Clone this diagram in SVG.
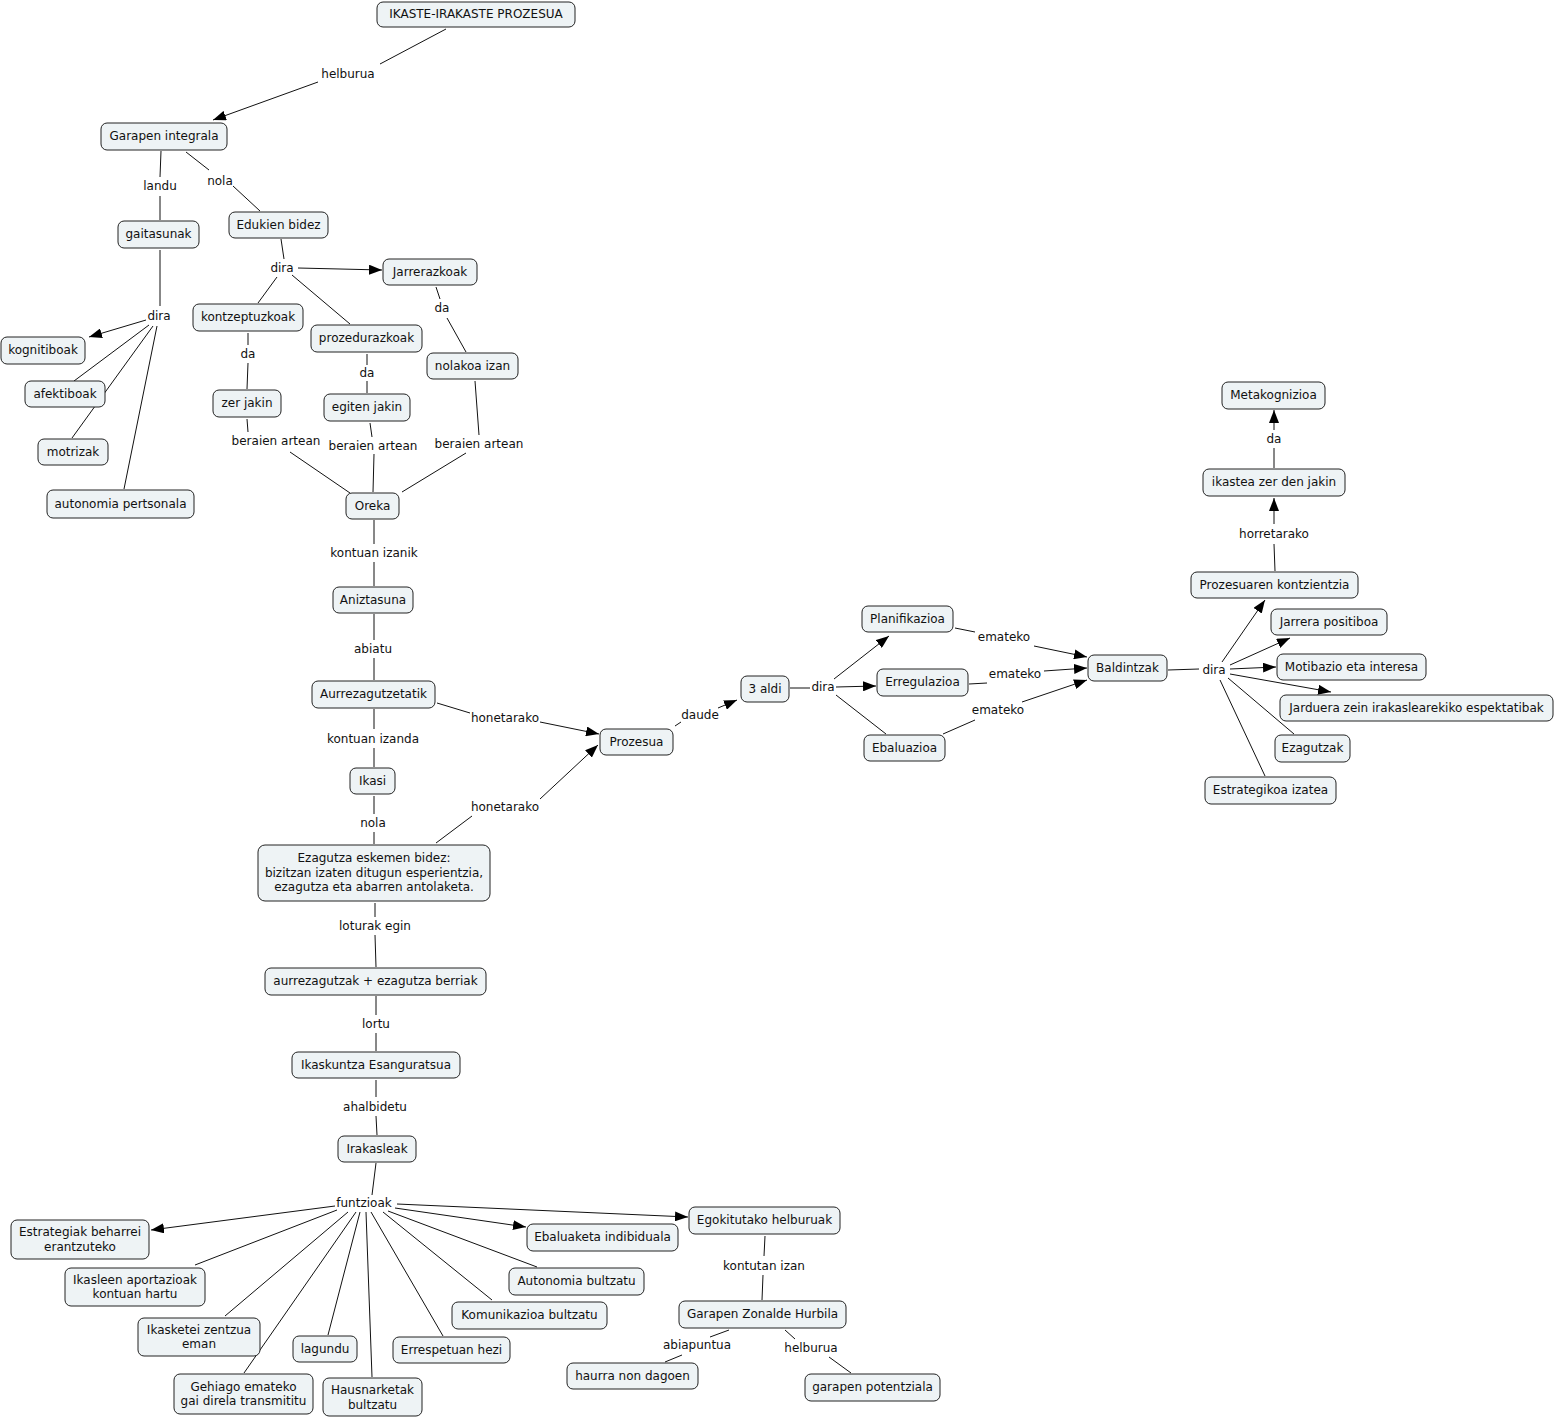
<svg xmlns="http://www.w3.org/2000/svg" width="1555" height="1419" viewBox="0 0 1555 1419">
<style>
.n rect{fill:#eef3f5;stroke:#222;stroke-width:1}
text{font-family:"DejaVu Sans","Verdana",sans-serif;font-size:12px;fill:#111;text-anchor:middle}
.c line{stroke:#111;stroke-width:1}
</style>
<defs>
<marker id="ar" viewBox="0 0 13 10" refX="13" refY="5" markerWidth="13" markerHeight="10" markerUnits="userSpaceOnUse" orient="auto"><path d="M0,0 L13,5 L0,10 z" fill="#000"/></marker>
</defs>
<rect width="1555" height="1419" fill="#fff"/>
<g id="connectors" class="c">
<line x1="446" y1="29" x2="380" y2="64"/>
<line x1="318" y1="82" x2="213" y2="120" marker-end="url(#ar)"/>
<line x1="161" y1="151" x2="160" y2="177"/>
<line x1="160" y1="196" x2="160" y2="220"/>
<line x1="186" y1="152" x2="209" y2="170"/>
<line x1="233" y1="186" x2="260" y2="211"/>
<line x1="281" y1="239" x2="284" y2="259"/>
<line x1="298" y1="268" x2="382" y2="270" marker-end="url(#ar)"/>
<line x1="277" y1="277" x2="258" y2="303"/>
<line x1="292" y1="275" x2="350" y2="324"/>
<line x1="436" y1="287" x2="440" y2="299"/>
<line x1="447" y1="318" x2="466" y2="352"/>
<line x1="248" y1="333" x2="248" y2="345"/>
<line x1="248" y1="363" x2="247" y2="389"/>
<line x1="367" y1="354" x2="367" y2="365"/>
<line x1="367" y1="381" x2="367" y2="393"/>
<line x1="475" y1="381" x2="479" y2="435"/>
<line x1="466" y1="453" x2="402" y2="492"/>
<line x1="247" y1="419" x2="248" y2="432"/>
<line x1="290" y1="452" x2="350" y2="493"/>
<line x1="370" y1="423" x2="372" y2="437"/>
<line x1="374" y1="454" x2="373" y2="492"/>
<line x1="160" y1="250" x2="160" y2="306"/>
<line x1="146" y1="320" x2="89" y2="337" marker-end="url(#ar)"/>
<line x1="149" y1="325" x2="74" y2="381"/>
<line x1="153" y1="326" x2="72" y2="438"/>
<line x1="157" y1="326" x2="124" y2="489"/>
<line x1="374" y1="520" x2="374" y2="544"/>
<line x1="374" y1="562" x2="374" y2="586"/>
<line x1="374" y1="614" x2="374" y2="640"/>
<line x1="374" y1="658" x2="374" y2="680"/>
<line x1="374" y1="709" x2="374" y2="729"/>
<line x1="374" y1="748" x2="374" y2="767"/>
<line x1="437" y1="703" x2="470" y2="713"/>
<line x1="540" y1="722" x2="599" y2="734" marker-end="url(#ar)"/>
<line x1="374" y1="796" x2="374" y2="814"/>
<line x1="374" y1="832" x2="374" y2="844"/>
<line x1="436" y1="843" x2="472" y2="816"/>
<line x1="540" y1="799" x2="598" y2="745" marker-end="url(#ar)"/>
<line x1="375" y1="903" x2="375" y2="917"/>
<line x1="375" y1="935" x2="376" y2="967"/>
<line x1="376" y1="996" x2="376" y2="1015"/>
<line x1="376" y1="1033" x2="376" y2="1051"/>
<line x1="376" y1="1080" x2="376" y2="1097"/>
<line x1="376" y1="1116" x2="377" y2="1135"/>
<line x1="376" y1="1163" x2="372" y2="1195"/>
<line x1="335" y1="1206" x2="151" y2="1230" marker-end="url(#ar)"/>
<line x1="337" y1="1210" x2="195" y2="1265"/>
<line x1="348" y1="1212" x2="225" y2="1316"/>
<line x1="360" y1="1212" x2="328" y2="1335"/>
<line x1="356" y1="1212" x2="244" y2="1373"/>
<line x1="366" y1="1212" x2="372" y2="1377"/>
<line x1="371" y1="1212" x2="443" y2="1336"/>
<line x1="383" y1="1212" x2="492" y2="1300"/>
<line x1="388" y1="1211" x2="537" y2="1267"/>
<line x1="395" y1="1208" x2="526" y2="1227" marker-end="url(#ar)"/>
<line x1="397" y1="1204" x2="688" y2="1217" marker-end="url(#ar)"/>
<line x1="765" y1="1236" x2="764" y2="1256"/>
<line x1="763" y1="1275" x2="762" y2="1300"/>
<line x1="729" y1="1330" x2="710" y2="1337"/>
<line x1="682" y1="1355" x2="665" y2="1362"/>
<line x1="785" y1="1330" x2="795" y2="1339"/>
<line x1="829" y1="1357" x2="851" y2="1373"/>
<line x1="675" y1="726" x2="681" y2="722"/>
<line x1="718" y1="708" x2="737" y2="700" marker-end="url(#ar)"/>
<line x1="790" y1="688" x2="810" y2="688"/>
<line x1="836" y1="687" x2="876" y2="686" marker-end="url(#ar)"/>
<line x1="834" y1="679" x2="889" y2="636" marker-end="url(#ar)"/>
<line x1="836" y1="695" x2="886" y2="734"/>
<line x1="955" y1="628" x2="975" y2="632"/>
<line x1="1034" y1="646" x2="1087" y2="657" marker-end="url(#ar)"/>
<line x1="969" y1="684" x2="987" y2="683"/>
<line x1="1044" y1="671" x2="1087" y2="668" marker-end="url(#ar)"/>
<line x1="943" y1="734" x2="975" y2="720"/>
<line x1="1022" y1="702" x2="1087" y2="680" marker-end="url(#ar)"/>
<line x1="1168" y1="670" x2="1199" y2="669"/>
<line x1="1222" y1="662" x2="1265" y2="600" marker-end="url(#ar)"/>
<line x1="1230" y1="665" x2="1290" y2="638" marker-end="url(#ar)"/>
<line x1="1230" y1="669" x2="1276" y2="667" marker-end="url(#ar)"/>
<line x1="1230" y1="674" x2="1331" y2="692" marker-end="url(#ar)"/>
<line x1="1228" y1="678" x2="1294" y2="734"/>
<line x1="1220" y1="680" x2="1265" y2="776"/>
<line x1="1275" y1="571" x2="1274" y2="544"/>
<line x1="1274" y1="524" x2="1274" y2="498" marker-end="url(#ar)"/>
<line x1="1274" y1="468" x2="1274" y2="448"/>
<line x1="1274" y1="430" x2="1274" y2="410" marker-end="url(#ar)"/>
</g>
<g id="labels">
<text x="348" y="78">helburua</text>
<text x="160" y="190">landu</text>
<text x="220" y="185">nola</text>
<text x="282" y="272">dira</text>
<text x="442" y="312">da</text>
<text x="248" y="358">da</text>
<text x="367" y="377">da</text>
<text x="159" y="320">dira</text>
<text x="276" y="445">beraien artean</text>
<text x="373" y="450">beraien artean</text>
<text x="479" y="448">beraien artean</text>
<text x="374" y="557">kontuan izanik</text>
<text x="373" y="653">abiatu</text>
<text x="505" y="722">honetarako</text>
<text x="373" y="743">kontuan izanda</text>
<text x="373" y="827">nola</text>
<text x="505" y="811">honetarako</text>
<text x="375" y="930">loturak egin</text>
<text x="376" y="1028">lortu</text>
<text x="375" y="1111">ahalbidetu</text>
<text x="364" y="1207">funtzioak</text>
<text x="700" y="719">daude</text>
<text x="823" y="691">dira</text>
<text x="1004" y="641">emateko</text>
<text x="1015" y="678">emateko</text>
<text x="998" y="714">emateko</text>
<text x="1214" y="674">dira</text>
<text x="1274" y="538">horretarako</text>
<text x="1274" y="443">da</text>
<text x="764" y="1270">kontutan izan</text>
<text x="697" y="1349">abiapuntua</text>
<text x="811" y="1352">helburua</text>
</g>
<g id="n1" class="n"><rect x="377" y="2" width="198" height="25" rx="6"/><text x="476" y="18">IKASTE-IRAKASTE PROZESUA</text></g>
<g id="n2" class="n"><rect x="101" y="123" width="126" height="27" rx="6"/><text x="164" y="140">Garapen integrala</text></g>
<g id="n3" class="n"><rect x="118" y="221" width="81" height="27" rx="6"/><text x="158.5" y="238">gaitasunak</text></g>
<g id="n4" class="n"><rect x="229" y="212" width="99" height="26" rx="6"/><text x="278.5" y="229">Edukien bidez</text></g>
<g id="n5" class="n"><rect x="383" y="259" width="94" height="26" rx="6"/><text x="430" y="276">Jarrerazkoak</text></g>
<g id="n6" class="n"><rect x="193" y="304" width="110" height="27" rx="6"/><text x="248" y="321">kontzeptuzkoak</text></g>
<g id="n7" class="n"><rect x="311" y="325" width="111" height="27" rx="6"/><text x="366.5" y="342">prozedurazkoak</text></g>
<g id="n8" class="n"><rect x="427" y="353" width="91" height="26" rx="6"/><text x="472.5" y="370">nolakoa izan</text></g>
<g id="n9" class="n"><rect x="1" y="337" width="84" height="27" rx="6"/><text x="43" y="354">kognitiboak</text></g>
<g id="n10" class="n"><rect x="25" y="381" width="80" height="26" rx="6"/><text x="65" y="398">afektiboak</text></g>
<g id="n11" class="n"><rect x="38" y="439" width="70" height="26" rx="6"/><text x="73" y="456">motrizak</text></g>
<g id="n12" class="n"><rect x="47" y="490" width="147" height="28" rx="6"/><text x="120.5" y="508">autonomia pertsonala</text></g>
<g id="n13" class="n"><rect x="213" y="390" width="68" height="27" rx="6"/><text x="247" y="407">zer jakin</text></g>
<g id="n14" class="n"><rect x="324" y="394" width="86" height="27" rx="6"/><text x="367" y="411">egiten jakin</text></g>
<g id="n15" class="n"><rect x="346" y="493" width="53" height="26" rx="6"/><text x="372.5" y="510">Oreka</text></g>
<g id="n16" class="n"><rect x="333" y="587" width="80" height="26" rx="6"/><text x="373" y="604">Aniztasuna</text></g>
<g id="n17" class="n"><rect x="312" y="681" width="123" height="27" rx="6"/><text x="373.5" y="698">Aurrezagutzetatik</text></g>
<g id="n18" class="n"><rect x="350" y="768" width="45" height="26" rx="6"/><text x="372.5" y="785">Ikasi</text></g>
<g id="n19" class="n"><rect x="258" y="845" width="232" height="56" rx="7"/><text x="374" y="862">Ezagutza eskemen bidez:</text><text x="374" y="876.5">bizitzan izaten ditugun esperientzia,</text><text x="374" y="891">ezagutza eta abarren antolaketa.</text></g>
<g id="n20" class="n"><rect x="265" y="968" width="221" height="27" rx="6"/><text x="375.5" y="985">aurrezagutzak + ezagutza berriak</text></g>
<g id="n21" class="n"><rect x="292" y="1052" width="168" height="26" rx="6"/><text x="376" y="1069">Ikaskuntza Esanguratsua</text></g>
<g id="n22" class="n"><rect x="338" y="1136" width="78" height="26" rx="6"/><text x="377" y="1153">Irakasleak</text></g>
<g id="n23" class="n"><rect x="600" y="729" width="73" height="26" rx="6"/><text x="636.5" y="746">Prozesua</text></g>
<g id="n24" class="n"><rect x="741" y="676" width="48" height="26" rx="6"/><text x="765" y="693">3 aldi</text></g>
<g id="n25" class="n"><rect x="862" y="606" width="91" height="26" rx="6"/><text x="907.5" y="623">Planifikazioa</text></g>
<g id="n26" class="n"><rect x="877" y="669" width="91" height="27" rx="6"/><text x="922.5" y="686">Erregulazioa</text></g>
<g id="n27" class="n"><rect x="864" y="735" width="81" height="26" rx="6"/><text x="904.5" y="752">Ebaluazioa</text></g>
<g id="n28" class="n"><rect x="1088" y="655" width="79" height="26" rx="6"/><text x="1127.5" y="672">Baldintzak</text></g>
<g id="n29" class="n"><rect x="1191" y="572" width="167" height="26" rx="6"/><text x="1274.5" y="589">Prozesuaren kontzientzia</text></g>
<g id="n30" class="n"><rect x="1271" y="609" width="116" height="26" rx="6"/><text x="1329" y="626">Jarrera positiboa</text></g>
<g id="n31" class="n"><rect x="1277" y="654" width="149" height="26" rx="6"/><text x="1351.5" y="671">Motibazio eta interesa</text></g>
<g id="n32" class="n"><rect x="1280" y="695" width="273" height="26" rx="6"/><text x="1416.5" y="712">Jarduera zein irakaslearekiko espektatibak</text></g>
<g id="n33" class="n"><rect x="1275" y="735" width="75" height="27" rx="6"/><text x="1312.5" y="752">Ezagutzak</text></g>
<g id="n34" class="n"><rect x="1205" y="777" width="131" height="27" rx="6"/><text x="1270.5" y="794">Estrategikoa izatea</text></g>
<g id="n35" class="n"><rect x="1203" y="469" width="142" height="27" rx="6"/><text x="1274" y="486">ikastea zer den jakin</text></g>
<g id="n36" class="n"><rect x="1222" y="382" width="103" height="27" rx="6"/><text x="1273.5" y="399">Metakognizioa</text></g>
<g id="n37" class="n"><rect x="11" y="1220" width="138" height="39" rx="6"/><text x="80" y="1236">Estrategiak beharrei</text><text x="80" y="1251">erantzuteko</text></g>
<g id="n38" class="n"><rect x="65" y="1268" width="140" height="38" rx="6"/><text x="135" y="1284">Ikasleen aportazioak</text><text x="135" y="1298">kontuan hartu</text></g>
<g id="n39" class="n"><rect x="138" y="1318" width="122" height="38" rx="6"/><text x="199" y="1334">Ikasketei zentzua</text><text x="199" y="1348">eman</text></g>
<g id="n40" class="n"><rect x="293" y="1336" width="64" height="26" rx="6"/><text x="325" y="1353">lagundu</text></g>
<g id="n41" class="n"><rect x="174" y="1374" width="139" height="40" rx="6"/><text x="243.5" y="1391">Gehiago emateko</text><text x="243.5" y="1405">gai direla transmititu</text></g>
<g id="n42" class="n"><rect x="323" y="1378" width="99" height="38" rx="6"/><text x="372.5" y="1394">Hausnarketak</text><text x="372.5" y="1409">bultzatu</text></g>
<g id="n43" class="n"><rect x="393" y="1337" width="117" height="26" rx="6"/><text x="451.5" y="1354">Errespetuan hezi</text></g>
<g id="n44" class="n"><rect x="452" y="1302" width="155" height="27" rx="6"/><text x="529.5" y="1319">Komunikazioa bultzatu</text></g>
<g id="n45" class="n"><rect x="509" y="1268" width="135" height="27" rx="6"/><text x="576.5" y="1285">Autonomia bultzatu</text></g>
<g id="n46" class="n"><rect x="527" y="1224" width="151" height="27" rx="6"/><text x="602.5" y="1241">Ebaluaketa indibiduala</text></g>
<g id="n47" class="n"><rect x="689" y="1207" width="151" height="27" rx="6"/><text x="764.5" y="1224">Egokitutako helburuak</text></g>
<g id="n48" class="n"><rect x="679" y="1301" width="167" height="27" rx="6"/><text x="762.5" y="1318">Garapen Zonalde Hurbila</text></g>
<g id="n49" class="n"><rect x="567" y="1363" width="131" height="26" rx="6"/><text x="632.5" y="1380">haurra non dagoen</text></g>
<g id="n50" class="n"><rect x="805" y="1374" width="135" height="27" rx="6"/><text x="872.5" y="1391">garapen potentziala</text></g>
</svg>
